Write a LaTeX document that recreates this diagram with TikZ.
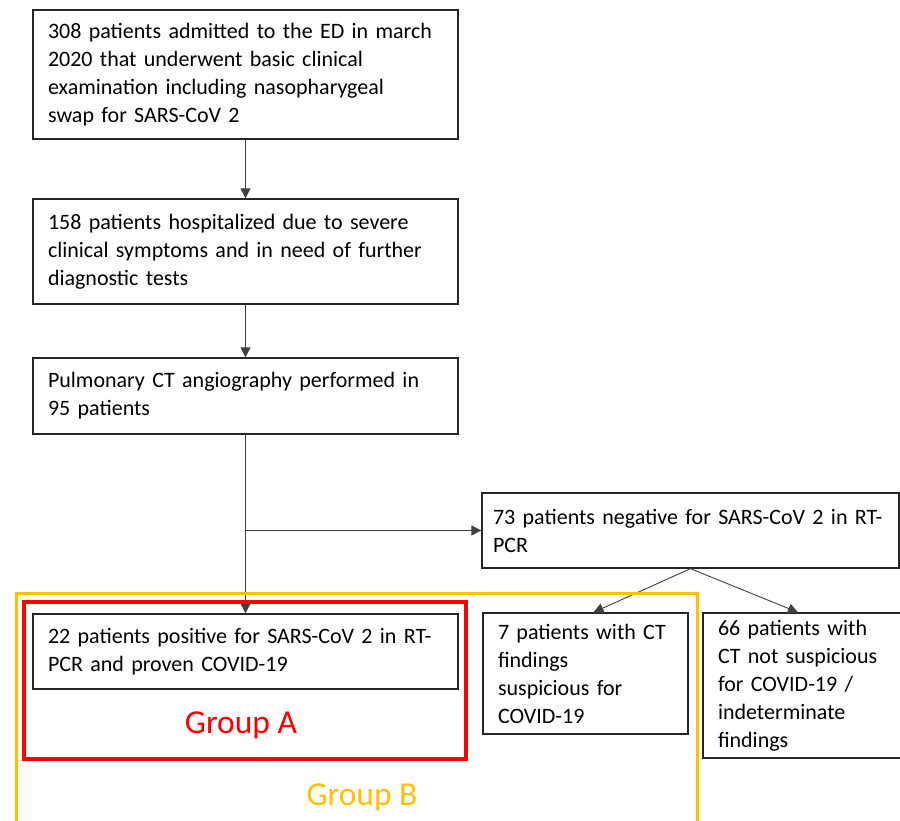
\documentclass[tikz,border=0pt]{standalone}
\usepackage{fontspec}
\setmainfont{Carlito}
\usetikzlibrary{arrows.meta}
\definecolor{groupred}{RGB}{255,0,0}
\definecolor{groupgold}{RGB}{255,192,0}

\begin{document}
\begin{tikzpicture}[x=1pt, y=-1pt, box/.style={draw=black!85, line width=1.3pt, align=left, inner xsep=15pt, inner ysep=0pt, font=\fontsize{22}{28}\selectfont}, flow/.style={-{Triangle[length=10pt, width=10pt]}, line width=0.9pt, draw=black!75}, grouplabel/.style={font=\fontsize{33.5}{38}\selectfont}]
\useasboundingbox (0,0) rectangle (900,821);

\node[box, text width=395pt, minimum height=129pt] (admit) at (245.5,74.5) {308 patients admitted to the ED in march\\2020 that underwent basic clinical\\examination including nasopharygeal\\swap for SARS-CoV 2};
\node[box, text width=395pt, minimum height=105pt] (hosp) at (245.5,251.5) {158 patients hospitalized due to severe\\clinical symptoms and in need of further\\diagnostic tests};
\node[box, text width=395pt, minimum height=76pt] (ctpa) at (245.5,396) {Pulmonary CT angiography performed in\\95 patients};
\node[box, inner xsep=11pt, text width=395pt, minimum height=75pt] (neg) at (690.5,530.5) {73 patients negative for SARS-CoV 2 in RT-\\PCR};
\node[box, text width=395pt, minimum height=75pt] (pos) at (245.5,651.5) {22 patients positive for SARS-CoV 2 in RT-\\PCR and proven COVID-19};
\node[box, text width=175pt, minimum height=121pt] (susp) at (585.5,673.5) {7 patients with CT\\findings\\suspicious for\\COVID-19};
\node[box, text width=172pt, minimum height=145pt] (nonsusp) at (804,685.5) {66 patients with\\CT not suspicious\\for COVID-19 /\\indeterminate\\findings};

\draw[flow] (admit) -- (hosp);
\draw[flow] (hosp) -- (ctpa);
\draw[flow] (ctpa) -- (pos);
\coordinate (split) at (ctpa.south |- neg.west);
\draw[flow] (split) -- (neg);
\draw[flow] (neg.south) -- ([xshift=8pt]susp.north);
\draw[flow] (neg.south) -- ([xshift=-6pt]nonsusp.north);

% groups
\draw[groupred, line width=3.5pt] (24,602) rectangle (466,759);
\node[grouplabel, text=groupred] (labelA) at (241,725) {Group A};
\draw[groupgold, line width=3pt] (16,830) -- (16,593) -- (697,593) -- (697,830);
\node[grouplabel, text=groupgold] (labelB) at (362,797) {Group B};
\end{tikzpicture}
\end{document}
